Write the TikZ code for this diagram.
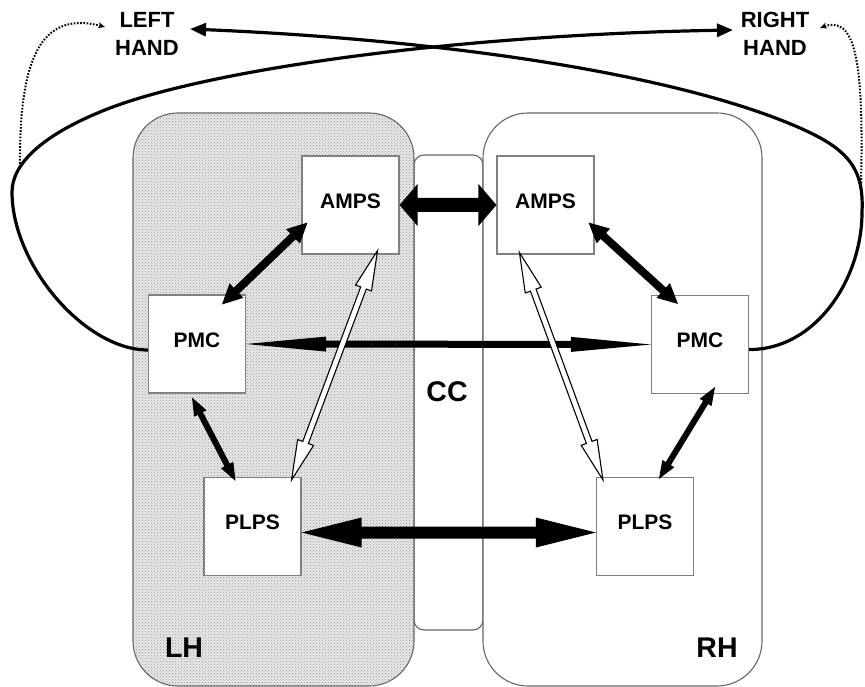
\documentclass[tikz,border=0pt]{standalone}
\usepackage{fontspec}
\setmainfont{Liberation Sans}
\usetikzlibrary{calc,arrows.meta,patterns}

% Double-headed block arrow drawn as a polygon.
% #1 style, #2 from, #3 to, #4 head length, #5 shaft half width, #6 head half width
\newcommand\fatarrow[6]{%
  \coordinate (fa1) at ($(#2)!#4!(#3)$);
  \coordinate (fa2) at ($(#3)!#4!(#2)$);
  \path[#1] (#2) -- ($(fa1)!#6!90:(#3)$) -- ($(fa1)!#5!90:(#3)$)
    -- ($(fa2)!#5!-90:(#2)$) -- ($(fa2)!#6!-90:(#2)$) -- (#3)
    -- ($(fa2)!#6!90:(#2)$) -- ($(fa2)!#5!90:(#2)$)
    -- ($(fa1)!#5!-90:(#3)$) -- ($(fa1)!#6!-90:(#3)$) -- cycle;
}

\begin{document}
\begin{tikzpicture}[x=1pt,y=-1pt,
  region/.style={draw=black!60, line width=1.1pt, rounded corners=45pt},
  area/.style={draw=black!50, line width=1.1pt, fill=white, inner sep=0pt,
    minimum width=97pt, minimum height=98pt, text depth=8pt,
    font=\bfseries\fontsize{21}{24}\selectfont},
  solidarrow/.style={fill=black},
  openarrow/.style={fill=white, draw=black, line width=1.1pt, line join=miter},
  handcurve/.style={draw=black, line width=3.2pt, -{Triangle[length=16pt,width=13pt]}},
  dotlink/.style={draw=black, line width=2pt, dash pattern=on 1.6pt off 1.6pt,
    -{Stealth[length=7pt,width=6pt]}},
  handlbl/.style={align=center, inner sep=0pt, font=\bfseries\fontsize{22}{28}\selectfont},
  biglbl/.style={inner sep=0pt, font=\bfseries\fontsize{28.5}{30}\selectfont}
]
\useasboundingbox (0,0) rectangle (865,687);

% corpus callosum strip and the two hemispheres
\path[region, rounded corners=10pt, fill=white] (414,155) rectangle (483,630);
\path[region, preaction={fill=black!9}, pattern=crosshatch dots, pattern color=black!42]
  (133,113) rectangle (414,686);
\path[region, fill=white] (483,113) rectangle (762,686);

% cortical areas
\node[area] (lamps) at (350.5,205) {AMPS};
\node[area] (ramps) at (545.5,205) {AMPS};
\node[area] (lpmc)  at (197,344)   {PMC};
\node[area] (rpmc)  at (700,344.5) {PMC};
\node[area] (lplps) at (252.5,526.5) {PLPS};
\node[area] (rplps) at (645,526.5) {PLPS};

% arrow end points
\coordinate (lalp1) at ($(lamps.south west)+(6,-32)$);
\coordinate (lalp2) at ($(lpmc.north)+(25,10)$);
\coordinate (rarp1) at ($(ramps.south east)+(-6,-32)$);
\coordinate (rarp2) at ($(rpmc.north)+(-22,9)$);
\coordinate (lpll1) at ($(lpmc.south)+(-5,4)$);
\coordinate (lpll2) at ($(lplps.north west)+(32,4)$);
\coordinate (rprl1) at ($(rpmc.south)+(15,-7)$);
\coordinate (rprl2) at ($(rplps.north west)+(63,2)$);
\coordinate (plps1) at ($(lplps.east)+(0,6)$);
\coordinate (plps2) at ($(rplps.west)+(0,6)$);
\coordinate (lwa1) at ($(lamps.south east)+(-22,-4)$);
\coordinate (lwa2) at ($(lplps.north east)+(-10,3)$);
\coordinate (rwa1) at ($(ramps.south west)+(23,-2)$);
\coordinate (rwa2) at ($(rplps.north west)+(7,3)$);

% solid connections
\fatarrow{solidarrow}{lamps.east}{ramps.west}{18pt}{7pt}{21pt}
\fatarrow{solidarrow}{lalp1}{lalp2}{20pt}{4pt}{10pt}
\fatarrow{solidarrow}{rarp1}{rarp2}{20pt}{4pt}{10pt}
\fatarrow{solidarrow}{lpll1}{lpll2}{18pt}{3pt}{7pt}
\fatarrow{solidarrow}{rprl1}{rprl2}{18pt}{3pt}{7pt}
\fatarrow{solidarrow}{lpmc.east}{rpmc.west}{80pt}{3.5pt}{7.5pt}
\fatarrow{solidarrow}{plps1}{plps2}{60pt}{6pt}{15pt}

% open connections
\fatarrow{openarrow}{lwa1}{lwa2}{40pt}{3pt}{8.5pt}
\fatarrow{openarrow}{rwa1}{rwa2}{40pt}{3pt}{8.5pt}

% hand labels and region labels
\node[handlbl] (lefthand) at (147,33.5) {LEFT\\HAND};
\node[handlbl] (righthand) at (775,33.5) {RIGHT\\HAND};
\node[biglbl] (cclbl) at (447,392) {CC};
\node[biglbl] (lhlbl) at (184,648) {LH};
\node[biglbl] (rhlbl) at (717,648) {RH};

\coordinate (lhtip) at (190,29);
\coordinate (rhtip) at (733,30);

% crossed motor pathways to the hands
\draw[handcurve] ($(lpmc.west)+(0,6)$) .. controls (85,350) and (12,265) .. (12,192)
  .. controls (12,165) and (40,135) .. (110,108)
  .. controls (210,70) and (450,35) .. (rhtip);
\draw[handcurve] ($(rpmc.east)+(0,5)$) .. controls (815,350) and (862,280) .. (862,212)
  .. controls (864,170) and (850,150) .. (800,128)
  .. controls (680,75) and (450,40) .. (lhtip);

% ipsilateral dotted links
\coordinate (ldot) at (20,167);
\coordinate (rdot) at (861,183);
\draw[dotlink] (ldot) .. controls (19,60) and (40,10) .. (105,27);
\draw[dotlink] (rdot) .. controls (864,60) and (855,15) .. (820,28);
\end{tikzpicture}
\end{document}
